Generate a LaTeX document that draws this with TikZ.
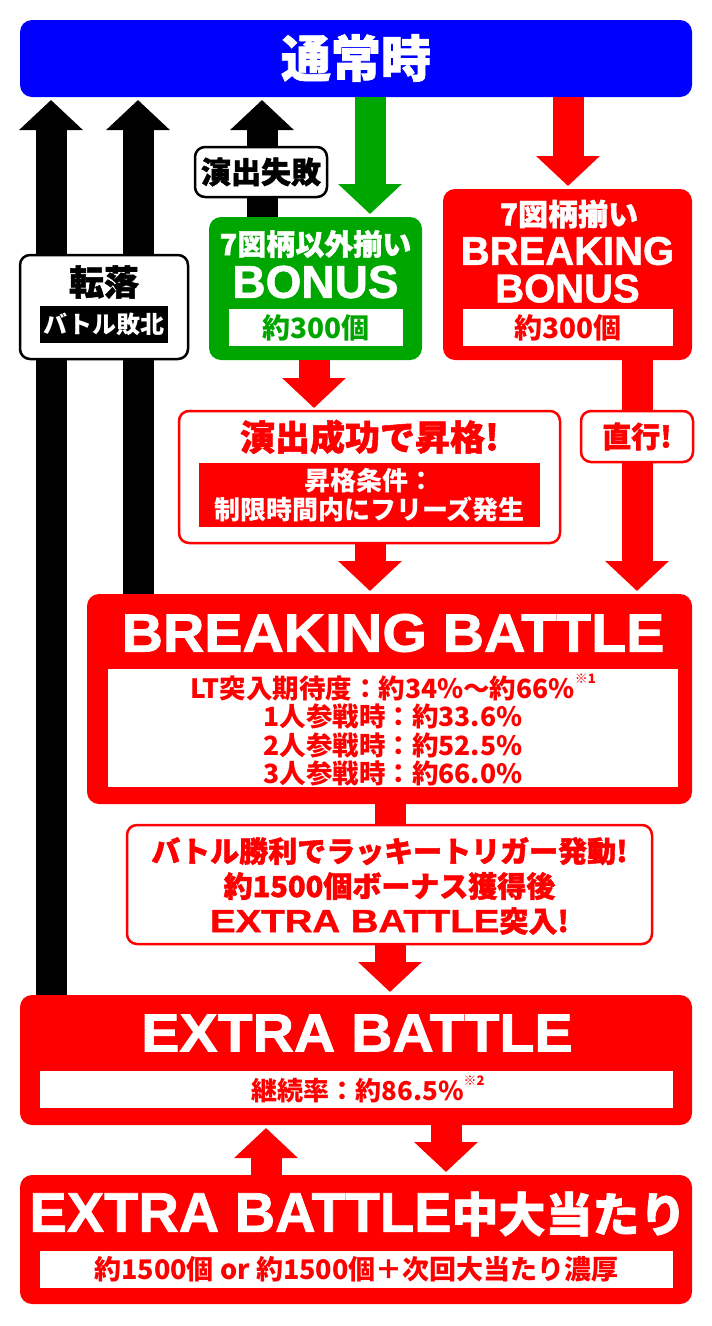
\documentclass[tikz,border=0pt]{standalone}
\usepackage{fontspec}
\setmainfont{Noto Sans CJK JP}
\newfontfamily\hv{Noto Sans CJK JP}[BoldFeatures={FakeBold=1.5}]
\newfontfamily\lat{Liberation Sans}[BoldFeatures={FakeBold=1.3}]
\newfontfamily\latw{Liberation Sans}[FakeStretch=1.2, BoldFeatures={FakeBold=1.3}]
\newfontfamily\latb{Liberation Sans}[FakeStretch=1.06, BoldFeatures={FakeBold=1.5}]
\usetikzlibrary{arrows.meta}
\definecolor{bblue}{RGB}{0,0,255}
\definecolor{rred}{RGB}{255,0,0}
\definecolor{ggreen}{RGB}{0,166,0}
\newcommand\fsz[1]{\fontsize{#1}{#1}\selectfont}
\tikzset{
  bx/.style={rounded corners=12pt, inner sep=0pt, outer sep=0pt},
  plate/.style={inner sep=0pt, outer sep=0pt, fill=white},
  txt/.style={inner sep=0pt, align=center, text=white, font=\bfseries},
  arr/.style={line width=31pt, -{Triangle[length=30pt,width=62pt]}, shorten >=3pt},
  bubble/.style={bx, rounded corners=10pt, fill=white, line width=2.5pt},
}
\begin{document}
\begin{tikzpicture}[x=1pt,y=-1pt]
\useasboundingbox (0,0) rectangle (712,1326);
% x positions of the block arrows
\coordinate (k1) at (51,0);
\coordinate (k2) at (138,0);
\coordinate (k3) at (262,0);
\coordinate (g1) at (370,0);
\coordinate (r1) at (568,0);
\coordinate (r2) at (314,0);
\coordinate (r3) at (370,0);
\coordinate (r4) at (637,0);
\coordinate (r5) at (390,0);
\coordinate (r6) at (266,0);
\coordinate (r7) at (446,0);

% main boxes
\node[bx, fill=bblue, minimum width=672pt, minimum height=77pt] (top) at (356,58.5) {};
\node[txt, font=\hv\bfseries\fsz{50}] (toplbl) at (356,58) {通常時};

\node[bx, fill=ggreen, minimum width=213pt, minimum height=143pt] (gbon) at (315.5,288.5) {};
\node[txt, font=\hv\bfseries\fsz{29}] (gbont) at (315.5,244) {7図柄以外揃い};
\node[txt, font=\lat\bfseries\fsz{46}] (gbonb) at (315.5,282) {BONUS};
\node[plate, minimum width=174pt, minimum height=37pt] (gbonp) at (316,327.5) {};
\node[txt, text=ggreen, font=\bfseries\fsz{28}] (gbonpt) at (316,327.5) {約300個};

\node[bx, fill=rred, minimum width=249pt, minimum height=171pt] (rbon) at (567.5,274.5) {};
\node[txt, font=\hv\bfseries\fsz{30}] (rbont) at (569,214) {7図柄揃い};
\node[txt, font=\lat\bfseries\fsz{40}] (rbonb) at (567.5,251) {BREAKING};
\node[txt, font=\lat\bfseries\fsz{40}] (rbonc) at (567.5,288.5) {BONUS};
\node[plate, minimum width=210pt, minimum height=37pt] (rbonp) at (568,327.5) {};
\node[txt, text=rred, font=\bfseries\fsz{28}] (rbonpt) at (568,327.5) {約300個};

\node[bubble, draw=rred, minimum width=381pt, minimum height=132pt] (succ) at (369.5,477) {};
\node[txt, text=rred, font=\hv\bfseries\fsz{35}] (succt) at (369.5,437) {演出成功で昇格!};
\node[inner sep=0pt, fill=rred, minimum width=341pt, minimum height=64pt] (succp) at (369.5,495) {};
\node[txt, font=\bfseries\fontsize{26}{29}\selectfont] (succpt) at (369.5,495) {昇格条件：\\制限時間内にフリーズ発生};

\node[bx, fill=rred, minimum width=605pt, minimum height=210pt] (bb) at (389.5,699) {};
\node[txt, font=\latb\bfseries\fsz{54}] (bbt) at (393,633) {BREAKING BATTLE};
\node[plate, minimum width=570pt, minimum height=118pt] (bbp) at (393,728) {};
\node[txt, text=rred, font=\bfseries\fontsize{26.5}{28.5}\selectfont] (bbpt) at (393,730) {LT突入期待度：約34\%〜約66\%\raisebox{.55em}{\fsz{13}※1}\\1人参戦時：約33.6\%\\2人参戦時：約52.5\%\\3人参戦時：約66.0\%};

\node[bx, fill=rred, minimum width=672pt, minimum height=130pt] (eb) at (356,1060) {};
\node[txt, font=\latb\bfseries\fsz{54}] (ebt) at (357,1033) {EXTRA BATTLE};
\node[plate, minimum width=633pt, minimum height=37pt] (ebp) at (356.5,1089.5) {};
\node[txt, text=rred, font=\bfseries\fsz{26}] (ebpt) at (368,1089.5) {継続率：約86.5\%\raisebox{.55em}{\fsz{13}※2}};

\node[bx, fill=rred, minimum width=672pt, minimum height=129pt] (ebh) at (356,1239.5) {};
\node[txt, font=\bfseries\fsz{56}] (ebht) at (358,1214) {{\lat EXTRA BATTLE}{\hv\fsz{47}中大当たり}};
\node[plate, minimum width=633pt, minimum height=37pt] (ebhp) at (356.5,1269.5) {};
\node[txt, text=rred, font=\bfseries\fsz{27}] (ebhpt) at (356.5,1269.5) {約1500個 or 約1500個＋次回大当たり濃厚};

% block arrows
\draw[arr, ggreen] (top.south -| g1) -- (gbon.north -| g1);
\draw[arr, rred] (top.south -| r1) -- (rbon.north -| r1);
\draw[arr, rred] (gbon.south -| r2) -- (succ.north -| r2);
\draw[arr, rred] (succ.south -| r3) -- (bb.north -| r3);
\draw[arr, rred] (rbon.south -| r4) -- (bb.north -| r4);
\draw[arr, rred] (bb.south -| r5) -- (eb.north -| r5);
\draw[arr, rred] (ebh.north -| r6) -- (eb.south -| r6);
\draw[arr, rred] (eb.south -| r7) -- (ebh.north -| r7);
\draw[arr, black] (eb.north -| k1) -- (top.south -| k1);
\draw[arr, black] (bb.north -| k2) -- (top.south -| k2);
\draw[arr, black] (gbon.north -| k3) -- (top.south -| k3);

% labels laid over the arrows
\node[bubble, draw=black, minimum width=132pt, minimum height=50pt] (fail) at (261,172) {};
\node[txt, text=black, font=\hv\bfseries\fsz{30}] (failt) at (261,172) {演出失敗};

\node[bubble, draw=black, minimum width=168pt, minimum height=104pt] (fall) at (104,307) {};
\node[txt, text=black, font=\hv\bfseries\fsz{35}] (fallt) at (104,282) {転落};
\node[inner sep=0pt, fill=black, minimum width=128pt, minimum height=37pt] (fallp) at (104,324.5) {};
\node[txt, font=\bfseries\fsz{24}] (fallpt) at (104,324.5) {バトル敗北};

\node[bubble, draw=rred, minimum width=112pt, minimum height=51pt] (direct) at (637,436.5) {};
\node[txt, text=rred, font=\hv\bfseries\fsz{29}] (directt) at (637,436.5) {直行!};

\node[bubble, draw=rred, minimum width=525pt, minimum height=119pt] (win) at (389.5,884.5) {};
\node[txt, text=rred, font=\hv\bfseries\fontsize{29}{35}\selectfont] (wint) at (389.5,886) {バトル勝利でラッキートリガー発動!\\約1500個ボーナス獲得後\\{\latw\fsz{32}EXTRA BATTLE}突入!};
\end{tikzpicture}
\end{document}
